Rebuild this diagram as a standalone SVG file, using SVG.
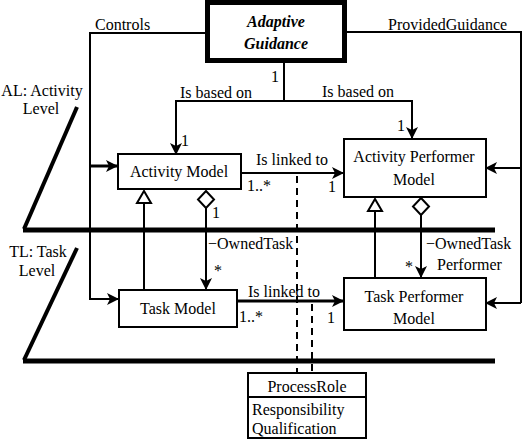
<svg xmlns="http://www.w3.org/2000/svg" width="524" height="440" viewBox="0 0 524 440">
<defs>
<style>
text{font-family:"Times New Roman","Liberation Serif",Times,serif;font-size:16px;fill:#000}
.c{text-anchor:middle}
.b{font-weight:bold;font-style:italic}
.box{fill:#fff;stroke:#000;stroke-width:2}
.ln{fill:none;stroke:#000;stroke-width:2}
.thick{fill:none;stroke:#000;stroke-width:5}
.dash{fill:none;stroke:#000;stroke-width:2;stroke-dasharray:7 5}
.hollow{fill:#fff;stroke:#000;stroke-width:2}
</style>
<marker id="arr" viewBox="0 0 12 12" refX="11" refY="6" markerWidth="12" markerHeight="12" markerUnits="userSpaceOnUse" orient="auto">
<path d="M0,0 L12,6 L0,12 L3,6 z" fill="#000"/>
</marker>
</defs>
<g id="levels">
<line class="thick" x1="23" y1="230" x2="495" y2="230"/>
<line class="thick" x1="23" y1="361" x2="495" y2="361"/>
<line class="ln" style="stroke-width:4" x1="77" y1="107" x2="24" y2="229"/>
<line class="ln" style="stroke-width:4" x1="77" y1="248" x2="24" y2="360"/>
<text class="c" x="42" y="96">AL: Activity</text>
<text class="c" x="41" y="114">Level</text>
<text class="c" x="38" y="257">TL: Task</text>
<text class="c" x="37" y="276">Level</text>
</g>
<g id="connectors">
<polyline class="ln" points="207,33 90,33 90,300"/>
<line class="ln" style="stroke-width:3" x1="90" y1="166" x2="117" y2="166" marker-end="url(#arr)"/>
<line class="ln" x1="90" y1="299" x2="118" y2="299" marker-end="url(#arr)"/>
<text x="95" y="30">Controls</text>
<polyline class="ln" points="347,32 521,32 521,303"/>
<line class="ln" x1="521" y1="168" x2="486" y2="168" marker-end="url(#arr)"/>
<line class="ln" x1="521" y1="303" x2="486" y2="303" marker-end="url(#arr)"/>
<text x="388" y="30">ProvidedGuidance</text>
<line class="ln" x1="284" y1="63" x2="284" y2="101"/>
<polyline class="ln" points="176,154 176,101 412,101 412,138" marker-end="url(#arr)"/>
<line class="ln" x1="176" y1="120" x2="176" y2="154" marker-end="url(#arr)"/>
<text x="271" y="82">1</text>
<text x="180" y="98">Is based on</text>
<text x="322" y="97">Is based on</text>
<text x="181" y="146">1</text>
<text x="397" y="131">1</text>
<line class="ln" x1="242" y1="173" x2="343" y2="173" marker-end="url(#arr)"/>
<text x="256" y="165">Is linked to</text>
<text x="247" y="191">1..*</text>
<text x="328" y="192">1</text>
<line class="ln" style="stroke-width:3" x1="238" y1="301" x2="343" y2="301" marker-end="url(#arr)"/>
<text x="248" y="297">Is linked to</text>
<text x="239" y="322">1..*</text>
<text x="327" y="323">1</text>
<line class="dash" x1="297" y1="176" x2="297" y2="373"/>
<line class="dash" x1="312" y1="304" x2="312" y2="373"/>
<line class="ln" x1="144" y1="203" x2="144" y2="290"/>
<polygon class="hollow" points="144,191 151,203 137,203"/>
<line class="ln" x1="206" y1="208" x2="206" y2="289" marker-end="url(#arr)"/>
<polygon class="hollow" points="206,191 214,199.5 206,208 198,199.5"/>
<text x="212" y="218">1</text>
<text x="208" y="249">−OwnedTask</text>
<text x="214" y="276">*</text>
<line class="ln" x1="375" y1="211" x2="375" y2="278"/>
<polygon class="hollow" points="375,199 382,211 368,211"/>
<line class="ln" x1="421" y1="215" x2="421" y2="277" marker-end="url(#arr)"/>
<polygon class="hollow" points="421,198 429,206.5 421,215 413,206.5"/>
<text x="426" y="249">−OwnedTask</text>
<text x="437" y="270">Performer</text>
<text x="405" y="272">*</text>
</g>
<g id="adaptive-guidance">
<rect x="207.5" y="2.5" width="137" height="58" fill="#fff" stroke="#000" stroke-width="5"/>
<text class="c b" x="276" y="27">Adaptive</text>
<text class="c b" x="276" y="49">Guidance</text>
</g>
<g id="activity-model">
<rect class="box" x="118" y="154" width="123" height="35"/>
<text class="c" x="179" y="177">Activity Model</text>
</g>
<g id="activity-performer-model">
<rect class="box" x="344" y="139" width="142" height="58"/>
<text class="c" x="414" y="162">Activity Performer</text>
<text class="c" x="414" y="185">Model</text>
</g>
<g id="task-model">
<rect class="box" x="119" y="290" width="118" height="37"/>
<text class="c" x="178" y="314">Task Model</text>
</g>
<g id="task-performer-model">
<rect class="box" x="344" y="278" width="142" height="52"/>
<text class="c" x="414" y="302">Task Performer</text>
<text class="c" x="414" y="324">Model</text>
</g>
<g id="process-role">
<rect class="box" x="248" y="373" width="118" height="65"/>
<line class="ln" x1="248" y1="397" x2="366" y2="397"/>
<text class="c" x="307" y="392">ProcessRole</text>
<text x="252" y="415">Responsibility</text>
<text x="252" y="434">Qualification</text>
</g>
</svg>
